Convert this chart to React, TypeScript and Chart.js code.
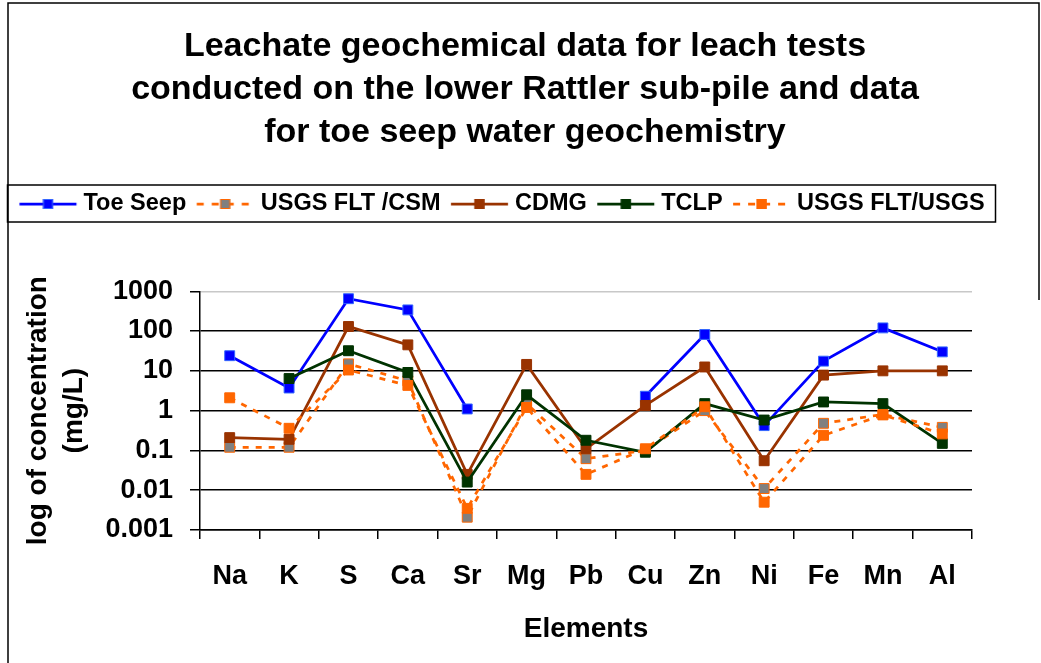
import React, { useEffect, useRef } from 'react';
import { Chart, registerables } from 'chart.js';

Chart.register(...registerables);

const CATEGORIES = ['Na', 'K', 'S', 'Ca', 'Sr', 'Mg', 'Pb', 'Cu', 'Zn', 'Ni', 'Fe', 'Mn', 'Al'];
const TOE_SEEP = [24, 3.7, 650, 340, 1.1, null, null, 2.3, 82, 0.42, 17.5, 120, 30];
const USGS_FLT_CSM = [0.12, 0.12, 15, 5.6, 0.0021, 1.5, 0.062, 0.1, 1.0, 0.011, 0.48, 0.8, 0.38];
const CDMG = [0.21, 0.19, 130, 45, 0.025, 14.5, 0.11, 1.35, 12.5, 0.055, 7.8, 10, 10];
const TCLP = [null, 6.4, 32, 9.1, 0.016, 2.5, 0.18, 0.09, 1.5, 0.58, 1.65, 1.5, 0.15];
const USGS_FLT_USGS = [2.1, 0.36, 10.5, 4.3, 0.0035, 1.2, 0.025, 0.11, 1.25, 0.005, 0.24, 0.78, 0.26];

const Y_TICKS = [0.001, 0.01, 0.1, 1, 10, 100, 1000];
const Y_TICK_LABELS = ['0.001', '0.01', '0.1', '1', '10', '100', '1000'];
const TITLE_LINES = [
  'Leachate geochemical data for leach tests',
  'conducted on the lower Rattler sub-pile and data',
  'for toe seep water geochemistry',
];
const Y_TITLE = ['log of concentration', '(mg/L)'];
const X_TITLE = 'Elements';

const FONT = "'Liberation Sans', Arial, sans-serif";
const DASH = [6, 7];

// legend geometry
const LEG_FONT = 23.5;
const LEG_PAD = 16;
const LEG_BOX_W = 46.75;
const SYM_W = 57;
const SYM_GAP = 7;

function makeLegendImage(color: string, dashed: boolean, fill: string, border: string) {
  const half = LEG_FONT / 2;
  const symEnd = LEG_BOX_W + half - SYM_GAP;
  const symStart = symEnd - SYM_W;
  const centre = LEG_BOX_W / 2;
  const halfW = Math.ceil(Math.max(centre - symStart, symEnd - centre)) + 1;
  const c = document.createElement('canvas');
  c.width = halfW * 2;
  c.height = 14;
  const off = halfW - centre;
  const g = c.getContext('2d') as CanvasRenderingContext2D;
  g.strokeStyle = color;
  g.lineWidth = 2.75;
  if (dashed) g.setLineDash([7, 8]);
  g.beginPath();
  g.moveTo(symStart + off, 7);
  g.lineTo(symEnd + off, 7);
  g.stroke();
  g.setLineDash([]);
  const mx = (symStart + symEnd) / 2 + off;
  g.fillStyle = fill;
  g.fillRect(mx - 5, 2, 10, 10);
  g.strokeStyle = border;
  g.lineWidth = 1;
  g.strokeRect(mx - 4.5, 2.5, 9, 9);
  return c;
}

const framePlugin = {
  id: 'frameAndLegendBox',
  afterDraw(chart: any) {
    const { ctx } = chart;
    ctx.save();
    ctx.strokeStyle = '#000';
    ctx.lineWidth = 1.5;
    ctx.beginPath();
    ctx.moveTo(8, 663);
    ctx.lineTo(8, 3);
    ctx.lineTo(1039, 3);
    ctx.lineTo(1039, 300);
    ctx.stroke();
    const lg = chart.legend;
    if (lg) {
      const cy = lg.top + LEG_PAD + LEG_FONT / 2;
      ctx.strokeRect(7.5, cy - 19, 988, 37);
    }
    ctx.restore();
  },
};

export default function App() {
  const ref = useRef<HTMLCanvasElement | null>(null);

  useEffect(() => {
    if (!ref.current) return;
    const specs = [
      { label: 'Toe Seep', data: TOE_SEEP, line: '#0000FF', fill: '#0000FF', border: '#3366FF', dashed: false },
      { label: 'USGS FLT /CSM', data: USGS_FLT_CSM, line: '#FF6600', fill: '#808080', border: '#FF6600', dashed: true },
      { label: 'CDMG', data: CDMG, line: '#993300', fill: '#993300', border: '#993300', dashed: false },
      { label: 'TCLP', data: TCLP, line: '#003300', fill: '#003300', border: '#003300', dashed: false },
      { label: 'USGS FLT/USGS', data: USGS_FLT_USGS, line: '#FF6600', fill: '#FF6600', border: '#FF6600', dashed: true },
    ];
    const images = specs.map((s) => makeLegendImage(s.line, s.dashed, s.fill, s.border));

    const datasets = specs.map((s, i) => ({
      label: s.label,
      data: s.data,
      xAxisID: 'x',
      yAxisID: 'y',
      borderColor: s.line,
      backgroundColor: s.fill,
      borderWidth: 2.75,
      borderDash: s.dashed ? DASH : [],
      pointStyle: 'rect',
      pointRadius: 7,
      pointBorderWidth: 1,
      pointBackgroundColor: s.fill,
      pointBorderColor: s.border,
      spanGaps: false,
      fill: false,
      tension: 0,
      order: specs.length - 1 - i,
    }));

    const defaultGen = (Chart as any).defaults.plugins.legend.labels.generateLabels;

    const chart = new Chart(ref.current, {
      type: 'line',
      data: { labels: CATEGORIES, datasets: datasets as any },
      plugins: [framePlugin],
      options: {
        responsive: false,
        maintainAspectRatio: false,
        animation: false,
        layout: { padding: { left: 9, right: 0, top: 0, bottom: 0 } },
        plugins: {
          title: {
            display: true,
            text: TITLE_LINES,
            color: '#000',
            font: { family: FONT, size: 34, weight: 'bold', lineHeight: 43 / 34 },
            padding: { top: 25, bottom: 23.5 - (LEG_FONT - 21) / 2 },
          },
          legend: {
            display: true,
            position: 'top',
            align: 'start',
            labels: {
              usePointStyle: true,
              pointStyleWidth: LEG_BOX_W,
              padding: LEG_PAD,
              color: '#000',
              font: { family: FONT, size: LEG_FONT, weight: 'bold' },
              sort: (a: any, b: any) => a.datasetIndex - b.datasetIndex,
              generateLabels: (chart: any) => {
                const items = defaultGen(chart);
                items.forEach((it: any) => {
                  it.pointStyle = images[it.datasetIndex];
                  it.lineWidth = 0;
                });
                return items;
              },
            },
          },
          tooltip: { enabled: false },
        },
        scales: {
          x: {
            type: 'category',
            position: 'bottom',
            offset: true,
            grid: {
              display: true,
              drawOnChartArea: false,
              drawTicks: true,
              tickLength: 9,
              offset: true,
              color: '#000',
              lineWidth: 1.5,
            },
            border: { display: true, color: '#000', width: 1.5 },
            ticks: {
              color: '#000',
              font: { family: FONT, size: 27, weight: 'bold' },
              padding: 21,
              autoSkip: false,
              maxRotation: 0,
            },
            title: {
              display: true,
              text: X_TITLE,
              color: '#000',
              font: { family: FONT, size: 28, weight: 'bold' },
              padding: { top: 0, bottom: 17 },
            },
            afterFit: (s: any) => {
              s.height = 133;
            },
          },
          xTop: {
            type: 'category',
            position: 'top',
            labels: CATEGORIES,
            display: true,
            grid: { display: false, drawTicks: false },
            border: { display: false },
            ticks: { display: false },
            afterFit: (s: any) => {
              s.height = 65.5;
            },
          },
          y: {
            type: 'logarithmic',
            position: 'left',
            min: 0.001,
            max: 1000,
            afterBuildTicks: (s: any) => {
              s.ticks = Y_TICKS.map((v) => ({ value: v }));
            },
            grid: {
              display: true,
              drawOnChartArea: true,
              drawTicks: true,
              tickLength: 10,
              lineWidth: 1.5,
              color: (ctx: any) => (ctx.tick && ctx.tick.value === 1000 ? '#c8c8c8' : '#000'),
              tickColor: '#000',
            },
            border: { display: true, color: '#000', width: 1.5 },
            ticks: {
              color: '#000',
              font: { family: FONT, size: 27, weight: 'bold' },
              padding: 17,
              autoSkip: false,
              callback: (_v: any, i: number) => Y_TICK_LABELS[i],
            },
            title: {
              display: true,
              text: Y_TITLE,
              color: '#000',
              font: { family: FONT, size: 28, weight: 'bold', lineHeight: 1.3 },
              padding: { top: 11, bottom: 0 },
            },
            afterFit: (s: any) => {
              s.width = 191;
            },
          },
          yRight: {
            type: 'linear',
            position: 'right',
            display: true,
            grid: { display: false, drawTicks: false },
            border: { display: false },
            ticks: { display: false },
            afterFit: (s: any) => {
              s.width = 69;
            },
          },
        },
      } as any,
    });
    return () => chart.destroy();
  }, []);

  return (
    <div style={{ position: 'absolute', left: 0, top: 0, width: 1041, height: 663, background: '#fff' }}>
      <canvas ref={ref} width={1041} height={663} style={{ display: 'block' }} />
    </div>
  );
}
